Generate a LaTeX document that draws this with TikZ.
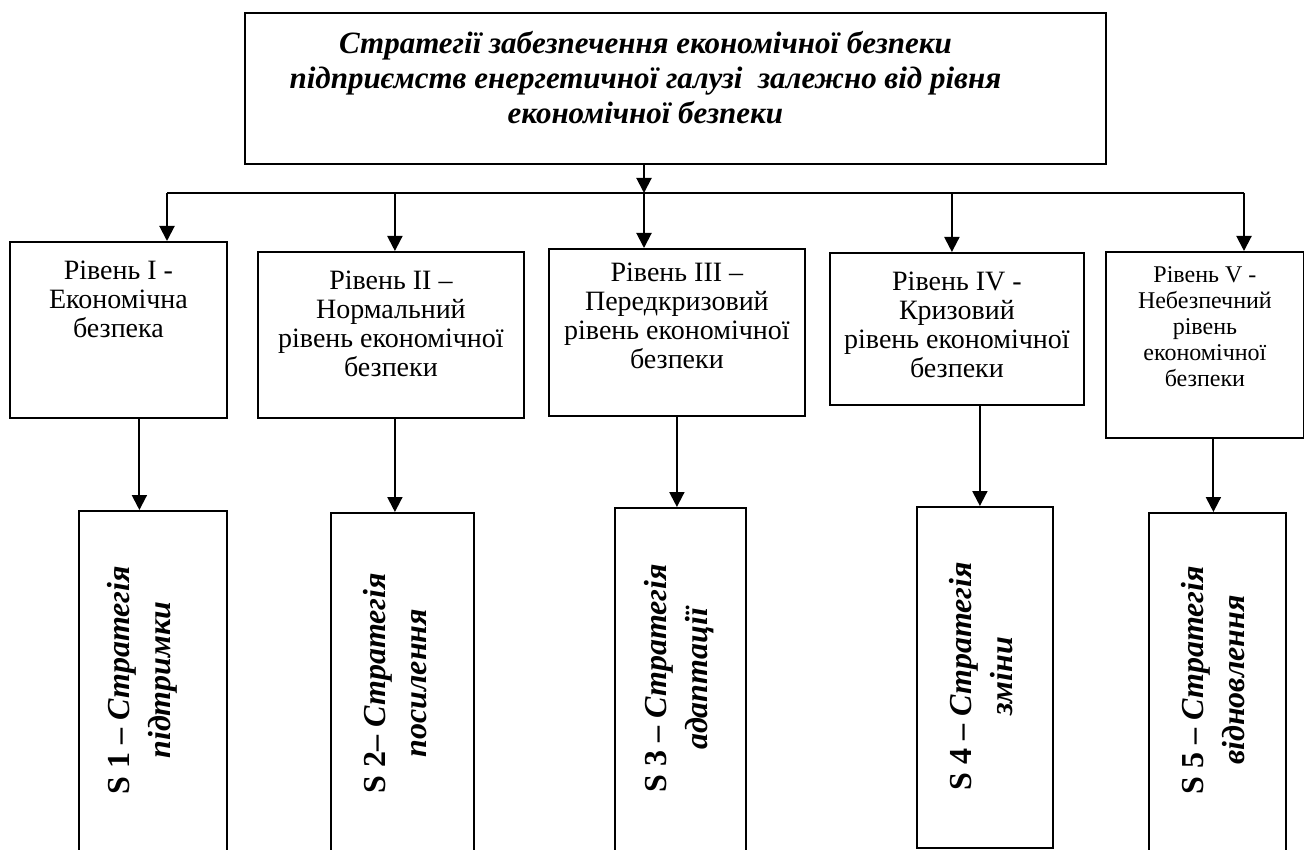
\documentclass[tikz,border=0pt]{standalone}
\usepackage{fontspec}
\setmainfont{Liberation Serif}
\usetikzlibrary{positioning,arrows.meta}

\begin{document}
\begin{tikzpicture}[x=1pt,y=-1pt,
    box/.style={draw, line width=1.8pt, inner sep=0pt, anchor=north west},
    lvltext/.style={align=center, anchor=north, font=\fontsize{28}{29}\selectfont},
    strtext/.style={align=center, rotate=90, font=\fontsize{32}{41}\selectfont\bfseries},
    arr/.style={-{Triangle[width=15pt,length=15pt]}, line width=2pt}]
    \useasboundingbox (0,0) rectangle (1304,850);

    % Top box
    \node[box, minimum width=861pt, minimum height=151pt] (title) at (244,12) {};
    \node[align=center, anchor=north, font=\fontsize{31}{35}\selectfont\bfseries\itshape] (titletext) at ([xshift=-30pt, yshift=-16pt]title.north)
        {Стратегії забезпечення економічної безпеки\\підприємств енергетичної галузі \ залежно від рівня\\економічної безпеки};

    % Levels
    \node[box, minimum width=217pt, minimum height=176pt] (lvl1) at (9,241) {};
    \node[box, minimum width=266pt, minimum height=166pt] (lvl2) at (257,251) {};
    \node[box, minimum width=256pt, minimum height=167pt] (lvl3) at (548,248) {};
    \node[box, minimum width=254pt, minimum height=152pt] (lvl4) at (829,252) {};
    \node[box, minimum width=198pt, minimum height=186pt] (lvl5) at (1105,251) {};

    \node[lvltext] (lvl1text) at ([yshift=-16pt]lvl1.north) {Рівень I -\\Економічна\\безпека};
    \node[lvltext] (lvl2text) at ([yshift=-16pt]lvl2.north) {Рівень II –\\Нормальний\\рівень економічної\\безпеки};
    \node[lvltext] (lvl3text) at ([yshift=-11pt]lvl3.north) {Рівень III –\\Передкризовий\\рівень економічної\\безпеки};
    \node[lvltext] (lvl4text) at ([yshift=-16pt]lvl4.north) {Рівень IV -\\Кризовий\\рівень економічної\\безпеки};
    \node[lvltext, font=\fontsize{24}{26}\selectfont] (lvl5text) at ([yshift=-12pt]lvl5.north) {Рівень V -\\Небезпечний\\рівень\\економічної\\безпеки};

    % Strategies
    \node[box, minimum width=148pt, minimum height=345pt] (s1) at (78,510) {};
    \node[box, minimum width=143pt, minimum height=345pt] (s2) at (330,512) {};
    \node[box, minimum width=131pt, minimum height=350pt] (s3) at (614,507) {};
    \node[box, minimum width=136pt, minimum height=341pt] (s4) at (916,506) {};
    \node[box, minimum width=137pt, minimum height=345pt] (s5) at (1148,512) {};

    \node[strtext] (s1text) at (142,680) {S 1 – \textit{Стратегія}\\\textit{підтримки}};
    \node[strtext] (s2text) at (395,683) {S 2– \textit{Стратегія}\\\textit{посилення}};
    \node[strtext] (s3text) at (679,678) {S 3 – \textit{Стратегія}\\\textit{адаптації}};
    \node[strtext] (s4text) at (981,676) {S 4 – \textit{Стратегія}\\\textit{зміни}};
    \node[strtext] (s5text) at (1213,680) {S 5 – \textit{Стратегія}\\\textit{відновлення}};

    % Connectors
    \coordinate (busL) at (167,193);
    \coordinate (bus) at (644,193);
    \coordinate (busR) at (1244,193);
    \draw[arr] (title.south -| bus) -- (bus);
    \draw[line width=2pt] (busL) -- (busR);
    \draw[arr] (busL) -- (busL |- lvl1.north);
    \draw[arr] ([xshift=4pt]lvl2.north |- busL) -- ([xshift=4pt]lvl2.north);
    \draw[arr] (bus) -- (bus |- lvl3.north);
    \draw[arr] ([xshift=-5pt]lvl4.north |- busL) -- ([xshift=-5pt]lvl4.north);
    \draw[arr] (busR) -- (busR |- lvl5.north);

    \draw[arr] ([xshift=21pt]lvl1.south) -- ([xshift=21pt]lvl1.south |- s1.north);
    \draw[arr] ([xshift=4pt]lvl2.south) -- ([xshift=4pt]lvl2.south |- s2.north);
    \draw[arr] (lvl3.south) -- (lvl3.south |- s3.north);
    \draw[arr] ([xshift=-5pt]s4.north |- lvl4.south) -- ([xshift=-5pt]s4.north);
    \draw[arr] ([xshift=-4pt]s5.north |- lvl5.south) -- ([xshift=-4pt]s5.north);
\end{tikzpicture}
\end{document}
